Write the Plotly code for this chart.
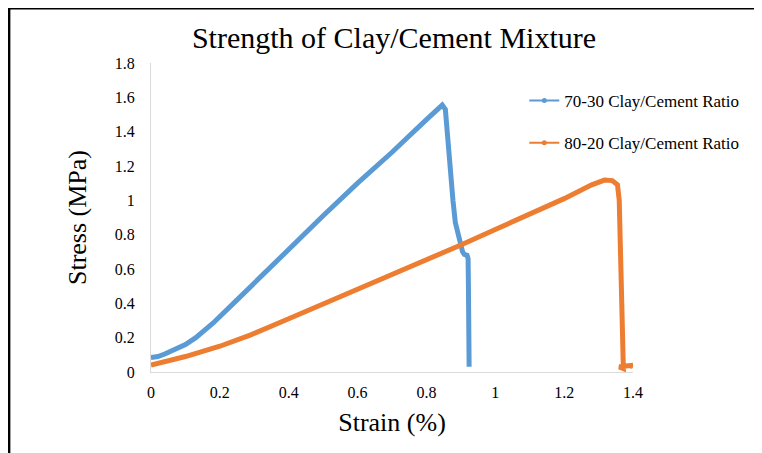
import plotly.graph_objects as go

# ---- data ----
strain_7030 = [0, 0.02, 0.04, 0.07, 0.10, 0.13, 0.18, 0.25, 0.30, 0.40, 0.50, 0.60, 0.70, 0.80,
               0.835, 0.846, 0.855, 0.862, 0.869, 0.877, 0.884, 0.892, 0.900, 0.905, 0.910,
               0.918, 0.921, 0.922, 0.923, 0.924]
stress_7030 = [0.085, 0.09, 0.105, 0.13, 0.16, 0.20, 0.284, 0.42, 0.52, 0.72, 0.91, 1.10, 1.28, 1.47,
               1.54, 1.555, 1.53, 1.35, 1.16, 1.00, 0.87, 0.79, 0.74, 0.70, 0.685,
               0.68, 0.66, 0.50, 0.30, 0.03]

strain_8020 = [0, 0.1, 0.2, 0.288, 0.4, 0.5, 0.6, 0.7, 0.8, 0.9, 1.0, 1.1, 1.2, 1.28, 1.317,
               1.34, 1.355, 1.36, 1.362, 1.365, 1.368, 1.370, 1.372, 1.36, 1.38, 1.40, 1.39]
stress_8020 = [0.04, 0.09, 0.15, 0.215, 0.31, 0.395, 0.48, 0.57, 0.655, 0.74, 0.83, 0.92, 1.01,
               1.09, 1.118, 1.115, 1.09, 1.0, 0.8, 0.5, 0.2, 0.05, 0.02, 0.03, 0.035, 0.04, 0.03]

name_7030 = "70-30 Clay/Cement Ratio"
name_8020 = "80-20 Clay/Cement Ratio"
x_ticks = [0, 0.2, 0.4, 0.6, 0.8, 1, 1.2, 1.4]
y_ticks = [0, 0.2, 0.4, 0.6, 0.8, 1, 1.2, 1.4, 1.6, 1.8]

BLUE = "#5B9BD5"
ORANGE = "#ED7D31"
FONT = "Liberation Serif, Times New Roman, serif"

fig = go.Figure()
fig.add_trace(go.Scatter(x=strain_7030, y=stress_7030, mode="lines", showlegend=False,
                         line=dict(color=BLUE, width=5)))
fig.add_trace(go.Scatter(x=strain_8020, y=stress_8020, mode="lines", showlegend=False,
                         line=dict(color=ORANGE, width=5)))
# legend entries (thin line + small dot like the reference)
fig.add_trace(go.Scatter(x=[None], y=[None], mode="lines+markers", name=name_7030,
                         legendgroup="a", line=dict(color=BLUE, width=2),
                         marker=dict(size=5, color=BLUE)))
fig.add_trace(go.Scatter(x=[None], y=[None], mode="lines+markers", name=name_8020,
                         legendgroup="b", line=dict(color=ORANGE, width=2),
                         marker=dict(size=5, color=ORANGE)))

# page body has an 8px margin: figure coords = reference coords - 8
W, H = 762, 453
L, T = 143, 55
R = W - 624.6
B = H - 364
pw, ph = W - L - R, H - T - B

def px(x):
    return (x - L) / pw

def py(y):
    return (H - B - y) / ph

fig.update_layout(
    width=W, height=H,
    margin=dict(l=L, r=R, t=T, b=B),
    paper_bgcolor="white", plot_bgcolor="white",
    font=dict(family=FONT, color="#000000"),
    title=dict(text="Strength of Clay/Cement Mixture", x=386 / W, xanchor="center",
               y=1 - 29 / H, yanchor="middle", font=dict(size=30, family=FONT)),
    xaxis=dict(range=[0, 1.4], tickvals=x_ticks, ticktext=[str(v) for v in x_ticks],
               showgrid=False, zeroline=False, showline=True, linecolor="#D9D9D9", linewidth=1,
               ticks="", ticklabelstandoff=6, tickfont=dict(size=16, family=FONT),
               title=dict(text="Strain (%)", font=dict(size=26, family=FONT), standoff=12)),
    yaxis=dict(range=[0, 1.8], tickvals=y_ticks, ticktext=[str(v) for v in y_ticks],
               showgrid=False, zeroline=False, showline=True, linecolor="#D9D9D9", linewidth=1,
               ticks="", ticklabelstandoff=12, tickfont=dict(size=16, family=FONT),
               title=dict(text="Stress (MPa)", font=dict(size=26, family=FONT), standoff=20)),
    legend=dict(x=px(516), y=py(75), xanchor="left", yanchor="top",
                traceorder="grouped", tracegroupgap=17, itemwidth=30,
                font=dict(size=17, family=FONT), bgcolor="rgba(0,0,0,0)"),
    shapes=[
        dict(type="line", xref="paper", yref="paper", x0=px(1), x1=px(W), y0=py(0), y1=py(0),
             line=dict(color="black", width=3)),
        dict(type="line", xref="paper", yref="paper", x0=px(1), x1=px(1), y0=py(-1), y1=py(H),
             line=dict(color="black", width=3)),
    ],
)

fig.write_html("out.html")
